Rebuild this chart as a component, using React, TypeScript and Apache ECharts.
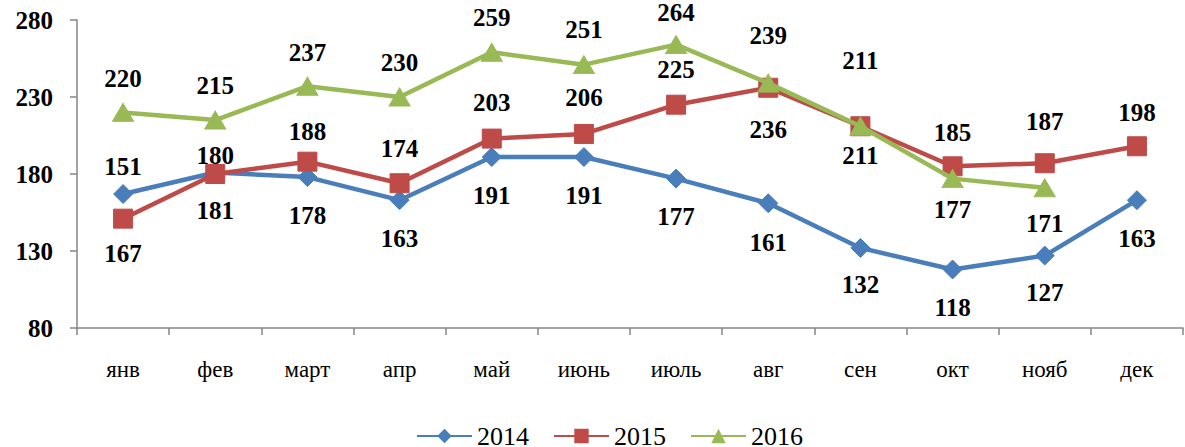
import React, { useEffect, useRef } from "react";
import * as echarts from "echarts";

const categories = ["янв", "фев", "март", "апр", "май", "июнь", "июль", "авг", "сен", "окт", "нояб", "дек"];
const seriesNames = ["2014", "2015", "2016"];
const values2014 = [167, 181, 178, 163, 191, 191, 177, 161, 132, 118, 127, 163];
const values2015 = [151, 180, 188, 174, 203, 206, 225, 236, 211, 185, 187, 198];
const values2016: (number | null)[] = [220, 215, 237, 230, 259, 251, 264, 239, 211, 177, 171, null];
const yTicks = { min: 80, max: 280, interval: 50 };

// vertical label offsets (px, relative to the point)
const labelDy2014 = [59, 38, 38, 38, 38, 38, 38, 39, 37, 38, 37, 38];
const labelDy2015 = [-52, -19, -30, -35, -36, -36, -35, 42, 29, -34, -42, -34];
const labelDy2016 = [-34, -35, -34, -35, -35, -35, -32, -48, -66, 31, 36, 0];

const colors = ["#4a7ebb", "#be4b48", "#98b954"];
const symbols = ["diamond", "rect", "triangle"];
const symbolSizes: any[] = [[19, 19], [19, 19], [21, 18]];
const FONT = "Liberation Serif";

function buildData(vals: (number | null)[], dys: number[]) {
  return vals.map((v, i) =>
    v == null ? "-" : { value: v, label: { offset: [0, dys[i]] } }
  );
}

export default function App() {
  const ref = useRef<HTMLDivElement>(null);
  useEffect(() => {
    if (!ref.current) return;
    const chart = echarts.init(ref.current, undefined, { renderer: "svg" });
    const allVals = [values2014, values2015, values2016];
    const allDy = [labelDy2014, labelDy2015, labelDy2016];
    chart.setOption({
      animation: false,
      textStyle: { fontFamily: FONT },
      grid: { left: 77, right: 2, top: 20, bottom: 119, containLabel: false },
      legend: {
        top: 418,
        left: 411,
        itemWidth: 55,
        itemHeight: 18,
        itemGap: 24,
        textStyle: { fontFamily: FONT, fontSize: 26, color: "#000" },
        data: seriesNames,
      },
      xAxis: {
        type: "category",
        data: categories,
        boundaryGap: true,
        axisLine: { lineStyle: { color: "#868686", width: 1.5 } },
        axisTick: { show: true, length: 7, lineStyle: { color: "#868686", width: 1.5 } },
        axisLabel: { fontFamily: FONT, fontSize: 23, color: "#000", margin: 30 },
        splitLine: { show: false },
      },
      yAxis: {
        type: "value",
        min: yTicks.min,
        max: yTicks.max,
        interval: yTicks.interval,
        axisLine: { show: true, lineStyle: { color: "#868686", width: 1.5 } },
        axisTick: { show: true, length: 7, lineStyle: { color: "#868686", width: 1.5 } },
        axisLabel: { fontFamily: FONT, fontSize: 25, fontWeight: "bold", color: "#000", margin: 24 },
        splitLine: { show: false },
      },
      series: seriesNames.map((name, k) => ({
        name,
        type: "line",
        data: buildData(allVals[k], allDy[k]),
        symbol: symbols[k],
        symbolSize: symbolSizes[k],
        showAllSymbol: true,
        connectNulls: false,
        lineStyle: { color: colors[k], width: 4.5 },
        itemStyle: { color: colors[k], borderColor: colors[k] },
        label: {
          show: true,
          position: "inside",
          fontFamily: FONT,
          fontSize: 25,
          fontWeight: "bold",
          color: "#000",
        },
        emphasis: { disabled: true },
        z: 2 + k,
      })),
    });
    return () => chart.dispose();
  }, []);
  return (
    <div
      ref={ref}
      style={{ position: "fixed", left: 0, top: 0, width: 1185, height: 447, background: "#fff" }}
    />
  );
}
